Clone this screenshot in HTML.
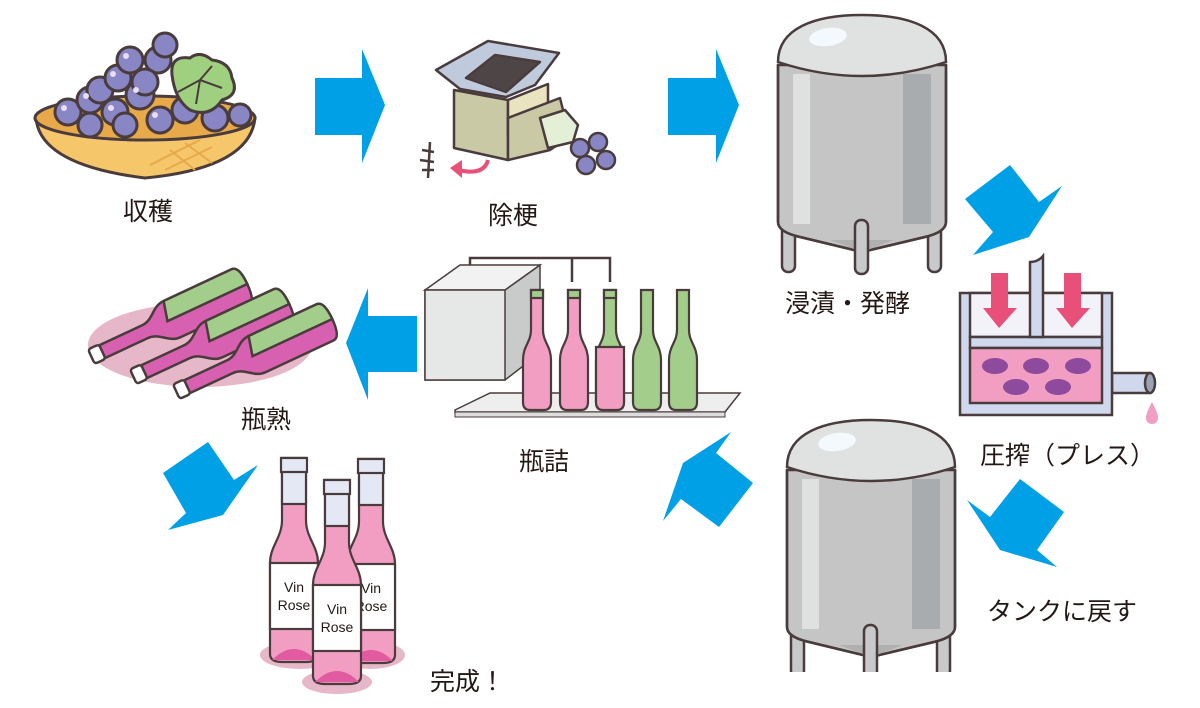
<!DOCTYPE html>
<html><head><meta charset="utf-8"><style>
html,body{margin:0;padding:0;background:#fff;}
svg{display:block;}
text{font-family:"Liberation Sans","Noto Sans CJK JP",sans-serif;fill:#231815;}
</style></head><body>
<svg width="1200" height="708" viewBox="0 0 1200 708" xmlns="http://www.w3.org/2000/svg">
<defs>
  <g id="tank" stroke="#4a3c3c" stroke-width="2.5">
    <rect x="782" y="200" width="13" height="72" rx="6" fill="#c8c9ca"/>
    <rect x="928" y="200" width="13" height="72" rx="6" fill="#c8c9ca"/>
    <path d="M778,65 V222 Q778,232 800,237 L862,252 L925,237 Q946,232 946,222 V65 Z" fill="#c5c5c5"/>
    <rect x="793" y="74" width="17" height="150" fill="#dfe0e0" stroke="none"/>
    <rect x="903" y="74" width="28" height="150" fill="#a9acae" stroke="none"/>
    <path d="M778,65 V222 Q778,232 800,237 L862,252 L925,237 Q946,232 946,222 V65" fill="none"/>
    <path d="M830,240 L862,252 L894,240" fill="#b0b0b0" stroke="none"/>
    <rect x="855" y="220" width="13" height="54" rx="6" fill="#c8c9ca"/>
    <path d="M778,62 C778,28 815,15 862,15 C909,15 946,28 946,62 Q862,90 778,62 Z" fill="#e0e1e1"/>
    <ellipse cx="828" cy="37" rx="19" ry="9" fill="#f4f9fd" stroke="none" transform="rotate(-8 828 37)"/>
  </g>
  <g id="fb">
    <path d="M-12,0 H12 V62 C12,80 24,88 24,105 V196 Q24,204 12,204 H-12 Q-24,204 -24,196 V105 C-24,88 -12,80 -12,62 Z" fill="#f19ec2"/>
    <rect x="-12" y="0" width="24" height="46" fill="#e3e8f4"/>
    <rect x="-13" y="0" width="26" height="14" fill="#e3e8f4"/>
    <rect x="-24" y="105" width="48" height="66" fill="#fff"/>
    <path d="M-22,202 Q0,180 22,202 Z" fill="#e25aa0" stroke="none"/>
  </g>
</defs>

<!-- blue arrows -->
<g fill="#00a0e6">
  <polygon points="315,78 362,78 362,49 385,105 362,163 362,135 315,135"/>
  <polygon points="668,78 716,78 716,49 739,105 716,163 716,135 668,135"/>
  <polygon points="965,199 1010,165 1039,202 1062,186 1029,237 973,255 993,232"/>
  <polygon points="967,500 990,517 1020,479 1064,512 1037,550 1057,567 1000,550"/>
  <polygon points="663,521 683,463 731,432 716,453 753,483 719,527 681,499"/>
  <polygon points="417,316 368,316 368,288 346,343 368,400 368,372 417,372"/>
  <polygon points="163,473 208,442 234,480 258,465 223,515 168,530 186,513"/>
</g>

<!-- harvest basket -->
<g stroke="#4a3c3c" stroke-width="3">
  <path d="M36,118 Q40,165 145,178 Q250,168 255,118 Z" fill="#f5c76a"/>
  <ellipse cx="145" cy="118" rx="110" ry="22" fill="#e8a94a"/>
  <g fill="#8886c4">
    <circle cx="68" cy="112" r="13"/><circle cx="90" cy="100" r="13"/><circle cx="115" cy="112" r="13"/>
    <circle cx="100" cy="90" r="13"/><circle cx="118" cy="78" r="13"/><circle cx="140" cy="95" r="14"/>
    <circle cx="130" cy="60" r="13"/><circle cx="158" cy="60" r="13"/><circle cx="165" cy="45" r="12"/>
    <circle cx="160" cy="120" r="13"/><circle cx="185" cy="110" r="13"/><circle cx="215" cy="118" r="13"/>
    <circle cx="145" cy="82" r="13"/><circle cx="90" cy="125" r="12"/><circle cx="125" cy="125" r="12"/><circle cx="240" cy="115" r="11"/>
  </g>
  <path d="M172,75 Q170,55 190,58 Q200,50 212,60 Q230,62 232,78 Q240,95 222,100 Q210,118 190,110 Q175,100 172,75 Z" fill="#9fd07f"/>
  <path d="M178,92 L200,80 L212,66 M200,80 L222,88 M200,80 L196,104" fill="none" stroke-width="2"/>
</g>
<g fill="#e9ddf0"><circle cx="86" cy="96" r="3"/><circle cx="113" cy="74" r="3"/><circle cx="136" cy="90" r="3"/><circle cx="126" cy="56" r="3"/><circle cx="155" cy="115" r="3"/><circle cx="64" cy="108" r="3"/><circle cx="111" cy="108" r="3"/></g>
<path d="M150,165 L200,140 M165,170 L212,147 M170,150 L195,170 M185,143 L212,163" stroke="#e8a94a" stroke-width="2"/>
<text x="123" y="220" font-size="25">収穫</text>

<!-- destemmer -->
<g stroke="#4a3c3c" stroke-width="2.5" stroke-linejoin="round">
  <polygon points="454,90 508,100 508,160 454,148" fill="#c9c9a5"/>
  <polygon points="508,100 548,84 548,120 508,135" fill="#eae3bf"/>
  <polygon points="508,118 560,98 565,118 565,140 550,150 508,160" fill="#c9c9a5"/>
  <polygon points="540,118 565,110 578,125 573,142 548,148" fill="#e4efd8"/>
  <polygon points="436,70 488,41 559,53 535,85 506,97 460,89" fill="#bfcadc"/>
  <polygon points="466,78 495,55 540,62 506,92" fill="#4e4547"/>
  <g fill="#8886c4"><circle cx="580" cy="148" r="9"/><circle cx="598" cy="142" r="9"/><circle cx="606" cy="160" r="9"/><circle cx="586" cy="165" r="9"/></g>
</g>
<path d="M430,142 L428,178 M422,150 L434,152 M420,160 L434,162 M422,170 L434,170" stroke="#4a3c3c" stroke-width="2.5" fill="none"/>
<path d="M488,160 Q484,176 458,170" stroke="#e8507a" stroke-width="4" fill="none"/>
<polygon points="450,168 462,160 462,178" fill="#e8507a"/>
<text x="488" y="224" font-size="25">除梗</text>

<!-- tanks -->
<use href="#tank"/>
<use href="#tank" transform="translate(9,405)"/>
<rect x="770" y="672" width="200" height="40" fill="#fff"/>
<text x="785" y="312" font-size="25">浸漬・発酵</text>

<!-- press -->
<g stroke="#4a3c3c" stroke-width="2.5">
  <rect x="1112" y="373" width="38" height="20" fill="#cfd8ec"/>
  <ellipse cx="1150" cy="383" rx="5" ry="10" fill="#9aa3b5"/>
  <rect x="960" y="293" width="152" height="122" fill="#cfd8ec"/>
  <rect x="970" y="293" width="132" height="44" fill="#f3f2f8"/>
  <rect x="970" y="337" width="132" height="11" fill="#cfd8ec"/>
  <rect x="970" y="348" width="132" height="55" fill="#f19ec2"/>
  <path d="M1030,337 V262 Q1038,262 1043,256 V337 Z" fill="#cfd8ec"/>
</g>
<g fill="#8e4a9c">
  <ellipse cx="995" cy="366" rx="13" ry="8"/><ellipse cx="1036" cy="366" rx="13" ry="8"/><ellipse cx="1078" cy="366" rx="13" ry="8"/>
  <ellipse cx="1016" cy="387" rx="13" ry="8"/><ellipse cx="1058" cy="387" rx="13" ry="8"/>
</g>
<g fill="#e8507a">
  <polygon points="991,273 1008,273 1008,308 1017,308 999,328 983,308 991,308"/>
  <polygon points="1064,273 1081,273 1081,308 1090,308 1072,328 1056,308 1064,308"/>
</g>
<path d="M1152,402 Q1158,413 1158,418 A6,6 0 0 1 1146,418 Q1146,413 1152,402 Z" fill="#f19ec2"/>
<text x="980" y="464" font-size="25">圧搾（プレス）</text>
<text x="987" y="620" font-size="25">タンクに戻す</text>

<!-- bottling -->
<g stroke="#4a3c3c" stroke-width="2.5" fill="none">
  <path d="M470,282 V258 H610 V282 M572,258 V282"/>
</g>
<polygon points="425,380 505,380 540,353 540,265 505,290 425,290" fill="#c9caca" stroke="#4a3c3c" stroke-width="1.5"/>
<polygon points="425,290 505,290 540,265 460,265" fill="#f2f2f2" stroke="#4a3c3c" stroke-width="1.5"/>
<rect x="425" y="290" width="80" height="90" fill="#e6e7e7" stroke="#4a3c3c" stroke-width="1.5"/>
<polygon points="455,410 490,393 740,393 725,412 455,412" fill="#eeeeee" stroke="#4a3c3c" stroke-width="1.5"/>
<rect x="455" y="412" width="270" height="5" fill="#ddd" stroke="#4a3c3c" stroke-width="1"/>
<g stroke="#4a3c3c" stroke-width="2.2">
  <g transform="translate(537,290)"><path d="M-6,0 H6 V40 C6,52 14,56 14,70 V112 Q14,120 7,120 H-7 Q-14,120 -14,112 V70 C-14,56 -6,52 -6,40 Z" fill="#f19ec2"/><rect x="-6" y="0" width="12" height="8" fill="#a3cd8a"/></g>
  <g transform="translate(574,290)"><path d="M-6,0 H6 V40 C6,52 14,56 14,70 V112 Q14,120 7,120 H-7 Q-14,120 -14,112 V70 C-14,56 -6,52 -6,40 Z" fill="#f19ec2"/><rect x="-6" y="0" width="12" height="8" fill="#a3cd8a"/></g>
  <g transform="translate(610,290)"><path d="M-6,0 H6 V40 C6,52 14,56 14,70 V112 Q14,120 7,120 H-7 Q-14,120 -14,112 V70 C-14,56 -6,52 -6,40 Z" fill="#a3cd8a"/><path d="M-14,57 H14 V112 Q14,120 7,120 H-7 Q-14,120 -14,112 Z" fill="#f19ec2"/><rect x="-6" y="0" width="12" height="8" fill="#a3cd8a"/></g>
  <g transform="translate(647,290)"><path d="M-6,0 H6 V40 C6,52 14,56 14,70 V112 Q14,120 7,120 H-7 Q-14,120 -14,112 V70 C-14,56 -6,52 -6,40 Z" fill="#a3cd8a"/></g>
  <g transform="translate(683,290)"><path d="M-6,0 H6 V40 C6,52 14,56 14,70 V112 Q14,120 7,120 H-7 Q-14,120 -14,112 V70 C-14,56 -6,52 -6,40 Z" fill="#a3cd8a"/></g>
</g>
<text x="519" y="470" font-size="25">瓶詰</text>

<!-- aging bottles -->
<ellipse cx="200" cy="345" rx="112" ry="42" fill="#e6b7c8"/>
<g stroke="#4a3c3c" stroke-width="2.5">
  <g transform="translate(95,355) rotate(-25)">
    <path d="M0,-7 H55 C68,-7 72,-20 85,-20 H160 Q168,-20 168,0 Q168,20 160,20 H85 C72,20 68,7 55,7 H0 Z" fill="#d860b0"/>
    <path d="M85,-20 H160 Q168,-20 168,0 H80 Z" fill="#a3cd8a"/>
    <rect x="-4" y="-8" width="12" height="16" rx="3" fill="#fff"/>
  </g>
  <g transform="translate(137,375) rotate(-25)">
    <path d="M0,-7 H55 C68,-7 72,-20 85,-20 H160 Q168,-20 168,0 Q168,20 160,20 H85 C72,20 68,7 55,7 H0 Z" fill="#d860b0"/>
    <path d="M85,-20 H160 Q168,-20 168,0 H80 Z" fill="#a3cd8a"/>
    <rect x="-4" y="-8" width="12" height="16" rx="3" fill="#fff"/>
  </g>
  <g transform="translate(180,390) rotate(-25)">
    <path d="M0,-7 H55 C68,-7 72,-20 85,-20 H160 Q168,-20 168,0 Q168,20 160,20 H85 C72,20 68,7 55,7 H0 Z" fill="#d860b0"/>
    <path d="M85,-20 H160 Q168,-20 168,0 H80 Z" fill="#a3cd8a"/>
    <rect x="-4" y="-8" width="12" height="16" rx="3" fill="#fff"/>
  </g>
</g>
<text x="241" y="428" font-size="25">瓶熟</text>

<!-- finished bottles -->
<ellipse cx="300" cy="655" rx="40" ry="14" fill="#e6b7c8"/>
<ellipse cx="370" cy="655" rx="35" ry="14" fill="#e6b7c8"/>
<ellipse cx="337" cy="682" rx="35" ry="12" fill="#e6b7c8"/>
<g stroke="#4a3c3c" stroke-width="2.2">
  <g transform="translate(294,458)"><use href="#fb"/>
    <text x="0" y="134" font-size="14" text-anchor="middle" stroke="none" fill="#4a3c3c">Vin</text>
    <text x="0" y="152" font-size="14" text-anchor="middle" stroke="none" fill="#4a3c3c">Rose</text>
  </g>
  <g transform="translate(371,459)"><use href="#fb"/>
    <text x="0" y="134" font-size="14" text-anchor="middle" stroke="none" fill="#4a3c3c">Vin</text>
    <text x="0" y="152" font-size="14" text-anchor="middle" stroke="none" fill="#4a3c3c">Rose</text>
  </g>
  <g transform="translate(337,480)"><use href="#fb"/>
    <text x="0" y="134" font-size="14" text-anchor="middle" stroke="none" fill="#4a3c3c">Vin</text>
    <text x="0" y="152" font-size="14" text-anchor="middle" stroke="none" fill="#4a3c3c">Rose</text>
  </g>
</g>
<text x="430" y="690" font-size="25">完成！</text>
</svg>
</body></html>
